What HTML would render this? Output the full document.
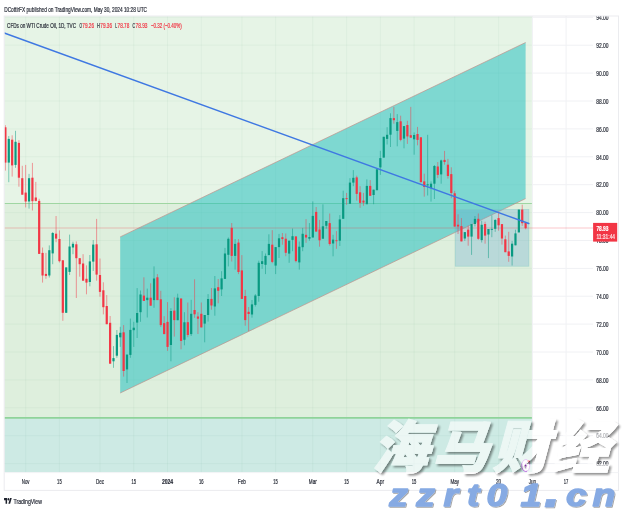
<!DOCTYPE html>
<html lang="en"><head><meta charset="utf-8"><title>CFDs on WTI Crude Oil, 1D, TVC</title>
<style>html,body{margin:0;padding:0;background:#fff;}body{width:623px;height:512px;overflow:hidden;}svg{display:block;}text{font-family:"Liberation Sans","Noto Sans CJK SC",sans-serif;}</style>
</head><body>
<svg width="623" height="512" viewBox="0 0 623 512">
<defs>
<clipPath id="pane"><rect x="4.2" y="16.0" width="588.8" height="456.6"/></clipPath>
<clipPath id="axis"><rect x="593.0" y="16.0" width="25.5" height="456.6"/></clipPath>
<filter id="ws" x="-5%" y="-10%" width="115%" height="130%"><feGaussianBlur in="SourceAlpha" stdDeviation="0.8" result="b"/><feOffset in="b" dx="2.2" dy="2.2" result="o"/><feComponentTransfer in="o" result="o2"><feFuncA type="linear" slope="0.7"/></feComponentTransfer><feComposite in="o2" in2="SourceAlpha" operator="out" result="s"/><feMerge><feMergeNode in="s"/><feMergeNode in="SourceGraphic"/></feMerge></filter>
<filter id="bs" x="-5%" y="-10%" width="115%" height="130%"><feGaussianBlur in="SourceAlpha" stdDeviation="0.45" result="b"/><feOffset in="b" dx="1.2" dy="1.2" result="o"/><feComponentTransfer in="o" result="o2"><feFuncA type="linear" slope="0.35"/></feComponentTransfer><feMerge><feMergeNode in="o2"/><feMergeNode in="SourceGraphic"/></feMerge></filter>
</defs>
<rect width="623" height="512" fill="#fff"/>
<text x="4.2" y="11.7" font-size="7.4" fill="#2a2e39" stroke="#2a2e39" stroke-width="0.22" textLength="142.8" lengthAdjust="spacingAndGlyphs">DCottlrFX published on TradingView.com, May 30, 2024 10:28 UTC</text>
<g clip-path="url(#pane)">
<line x1="25.7" y1="16.0" x2="25.7" y2="472.6" stroke="#f0f1f4" stroke-width="1"/>
<line x1="59.4" y1="16.0" x2="59.4" y2="472.6" stroke="#f0f1f4" stroke-width="1"/>
<line x1="100.0" y1="16.0" x2="100.0" y2="472.6" stroke="#f0f1f4" stroke-width="1"/>
<line x1="133.8" y1="16.0" x2="133.8" y2="472.6" stroke="#f0f1f4" stroke-width="1"/>
<line x1="167.5" y1="16.0" x2="167.5" y2="472.6" stroke="#f0f1f4" stroke-width="1"/>
<line x1="201.3" y1="16.0" x2="201.3" y2="472.6" stroke="#f0f1f4" stroke-width="1"/>
<line x1="241.9" y1="16.0" x2="241.9" y2="472.6" stroke="#f0f1f4" stroke-width="1"/>
<line x1="275.6" y1="16.0" x2="275.6" y2="472.6" stroke="#f0f1f4" stroke-width="1"/>
<line x1="312.8" y1="16.0" x2="312.8" y2="472.6" stroke="#f0f1f4" stroke-width="1"/>
<line x1="346.6" y1="16.0" x2="346.6" y2="472.6" stroke="#f0f1f4" stroke-width="1"/>
<line x1="380.4" y1="16.0" x2="380.4" y2="472.6" stroke="#f0f1f4" stroke-width="1"/>
<line x1="414.1" y1="16.0" x2="414.1" y2="472.6" stroke="#f0f1f4" stroke-width="1"/>
<line x1="454.7" y1="16.0" x2="454.7" y2="472.6" stroke="#f0f1f4" stroke-width="1"/>
<line x1="498.6" y1="16.0" x2="498.6" y2="472.6" stroke="#f0f1f4" stroke-width="1"/>
<line x1="532.4" y1="16.0" x2="532.4" y2="472.6" stroke="#f0f1f4" stroke-width="1"/>
<line x1="566.1" y1="16.0" x2="566.1" y2="472.6" stroke="#f0f1f4" stroke-width="1"/>
<line x1="4.2" y1="463.6" x2="593.0" y2="463.6" stroke="#f0f1f4" stroke-width="1"/>
<line x1="4.2" y1="435.7" x2="593.0" y2="435.7" stroke="#f0f1f4" stroke-width="1"/>
<line x1="4.2" y1="407.8" x2="593.0" y2="407.8" stroke="#f0f1f4" stroke-width="1"/>
<line x1="4.2" y1="379.9" x2="593.0" y2="379.9" stroke="#f0f1f4" stroke-width="1"/>
<line x1="4.2" y1="352.0" x2="593.0" y2="352.0" stroke="#f0f1f4" stroke-width="1"/>
<line x1="4.2" y1="324.1" x2="593.0" y2="324.1" stroke="#f0f1f4" stroke-width="1"/>
<line x1="4.2" y1="296.2" x2="593.0" y2="296.2" stroke="#f0f1f4" stroke-width="1"/>
<line x1="4.2" y1="268.4" x2="593.0" y2="268.4" stroke="#f0f1f4" stroke-width="1"/>
<line x1="4.2" y1="240.5" x2="593.0" y2="240.5" stroke="#f0f1f4" stroke-width="1"/>
<line x1="4.2" y1="212.6" x2="593.0" y2="212.6" stroke="#f0f1f4" stroke-width="1"/>
<line x1="4.2" y1="184.7" x2="593.0" y2="184.7" stroke="#f0f1f4" stroke-width="1"/>
<line x1="4.2" y1="156.8" x2="593.0" y2="156.8" stroke="#f0f1f4" stroke-width="1"/>
<line x1="4.2" y1="128.9" x2="593.0" y2="128.9" stroke="#f0f1f4" stroke-width="1"/>
<line x1="4.2" y1="101.0" x2="593.0" y2="101.0" stroke="#f0f1f4" stroke-width="1"/>
<line x1="4.2" y1="73.1" x2="593.0" y2="73.1" stroke="#f0f1f4" stroke-width="1"/>
<line x1="4.2" y1="45.2" x2="593.0" y2="45.2" stroke="#f0f1f4" stroke-width="1"/>
<line x1="4.2" y1="17.3" x2="593.0" y2="17.3" stroke="#f0f1f4" stroke-width="1"/>
<rect x="4.2" y="16.0" width="527.7" height="187.5" fill="#e6f4e6"/>
<rect x="4.2" y="203.5" width="527.7" height="214.3" fill="#deefdd"/>
<rect x="4.2" y="417.8" width="527.7" height="54.8" fill="#cdeae4"/>
<line x1="25.7" y1="16.0" x2="25.7" y2="472.6" stroke="#3c8c5a" stroke-opacity="0.05" stroke-width="1"/>
<line x1="59.4" y1="16.0" x2="59.4" y2="472.6" stroke="#3c8c5a" stroke-opacity="0.05" stroke-width="1"/>
<line x1="100.0" y1="16.0" x2="100.0" y2="472.6" stroke="#3c8c5a" stroke-opacity="0.05" stroke-width="1"/>
<line x1="133.8" y1="16.0" x2="133.8" y2="472.6" stroke="#3c8c5a" stroke-opacity="0.05" stroke-width="1"/>
<line x1="167.5" y1="16.0" x2="167.5" y2="472.6" stroke="#3c8c5a" stroke-opacity="0.05" stroke-width="1"/>
<line x1="201.3" y1="16.0" x2="201.3" y2="472.6" stroke="#3c8c5a" stroke-opacity="0.05" stroke-width="1"/>
<line x1="241.9" y1="16.0" x2="241.9" y2="472.6" stroke="#3c8c5a" stroke-opacity="0.05" stroke-width="1"/>
<line x1="275.6" y1="16.0" x2="275.6" y2="472.6" stroke="#3c8c5a" stroke-opacity="0.05" stroke-width="1"/>
<line x1="312.8" y1="16.0" x2="312.8" y2="472.6" stroke="#3c8c5a" stroke-opacity="0.05" stroke-width="1"/>
<line x1="346.6" y1="16.0" x2="346.6" y2="472.6" stroke="#3c8c5a" stroke-opacity="0.05" stroke-width="1"/>
<line x1="380.4" y1="16.0" x2="380.4" y2="472.6" stroke="#3c8c5a" stroke-opacity="0.05" stroke-width="1"/>
<line x1="414.1" y1="16.0" x2="414.1" y2="472.6" stroke="#3c8c5a" stroke-opacity="0.05" stroke-width="1"/>
<line x1="454.7" y1="16.0" x2="454.7" y2="472.6" stroke="#3c8c5a" stroke-opacity="0.05" stroke-width="1"/>
<line x1="498.6" y1="16.0" x2="498.6" y2="472.6" stroke="#3c8c5a" stroke-opacity="0.05" stroke-width="1"/>
<line x1="4.2" y1="463.6" x2="531.9" y2="463.6" stroke="#3c8c5a" stroke-opacity="0.05" stroke-width="1"/>
<line x1="4.2" y1="435.7" x2="531.9" y2="435.7" stroke="#3c8c5a" stroke-opacity="0.05" stroke-width="1"/>
<line x1="4.2" y1="407.8" x2="531.9" y2="407.8" stroke="#3c8c5a" stroke-opacity="0.05" stroke-width="1"/>
<line x1="4.2" y1="379.9" x2="531.9" y2="379.9" stroke="#3c8c5a" stroke-opacity="0.05" stroke-width="1"/>
<line x1="4.2" y1="352.0" x2="531.9" y2="352.0" stroke="#3c8c5a" stroke-opacity="0.05" stroke-width="1"/>
<line x1="4.2" y1="324.1" x2="531.9" y2="324.1" stroke="#3c8c5a" stroke-opacity="0.05" stroke-width="1"/>
<line x1="4.2" y1="296.2" x2="531.9" y2="296.2" stroke="#3c8c5a" stroke-opacity="0.05" stroke-width="1"/>
<line x1="4.2" y1="268.4" x2="531.9" y2="268.4" stroke="#3c8c5a" stroke-opacity="0.05" stroke-width="1"/>
<line x1="4.2" y1="240.5" x2="531.9" y2="240.5" stroke="#3c8c5a" stroke-opacity="0.05" stroke-width="1"/>
<line x1="4.2" y1="212.6" x2="531.9" y2="212.6" stroke="#3c8c5a" stroke-opacity="0.05" stroke-width="1"/>
<line x1="4.2" y1="184.7" x2="531.9" y2="184.7" stroke="#3c8c5a" stroke-opacity="0.05" stroke-width="1"/>
<line x1="4.2" y1="156.8" x2="531.9" y2="156.8" stroke="#3c8c5a" stroke-opacity="0.05" stroke-width="1"/>
<line x1="4.2" y1="128.9" x2="531.9" y2="128.9" stroke="#3c8c5a" stroke-opacity="0.05" stroke-width="1"/>
<line x1="4.2" y1="101.0" x2="531.9" y2="101.0" stroke="#3c8c5a" stroke-opacity="0.05" stroke-width="1"/>
<line x1="4.2" y1="73.1" x2="531.9" y2="73.1" stroke="#3c8c5a" stroke-opacity="0.05" stroke-width="1"/>
<line x1="4.2" y1="45.2" x2="531.9" y2="45.2" stroke="#3c8c5a" stroke-opacity="0.05" stroke-width="1"/>
<line x1="4.2" y1="17.3" x2="531.9" y2="17.3" stroke="#3c8c5a" stroke-opacity="0.05" stroke-width="1"/>
<line x1="4.2" y1="203.5" x2="531.9" y2="203.5" stroke="#9fd6a2" stroke-width="1"/>
<line x1="4.2" y1="417.8" x2="531.9" y2="417.8" stroke="#8fd39a" stroke-width="1.8"/>
<polygon points="120.2,236.9 525.6,42.5 525.6,198.6 120.2,393.0" fill="#20bfbf" fill-opacity="0.525"/>
<line x1="120.2" y1="236.9" x2="525.6" y2="42.5" stroke="#bf8f89" stroke-opacity="0.85" stroke-width="0.8"/>
<line x1="120.2" y1="393.0" x2="525.6" y2="198.6" stroke="#bf8f89" stroke-opacity="0.85" stroke-width="0.8"/>
<rect x="455.2" y="209.4" width="73.7" height="56.8" fill="#5aa2d2" fill-opacity="0.28" stroke="#7fc8c4" stroke-opacity="0.6" stroke-width="0.6"/>
<line x1="4.2" y1="228" x2="593.0" y2="228" stroke="#f23645" stroke-opacity="0.28" stroke-width="1"/>
<line x1="5.40" y1="125.2" x2="5.40" y2="170.6" stroke="#f23645" stroke-opacity="0.55" stroke-width="0.9"/>
<rect x="4.30" y="127.3" width="2.2" height="35.3" fill="#f23645"/>
<line x1="8.78" y1="136.0" x2="8.78" y2="182.2" stroke="#089981" stroke-opacity="0.55" stroke-width="0.9"/>
<rect x="7.68" y="138.9" width="2.2" height="23.7" fill="#089981"/>
<line x1="12.16" y1="135.3" x2="12.16" y2="176.6" stroke="#f23645" stroke-opacity="0.55" stroke-width="0.9"/>
<rect x="11.06" y="139.7" width="2.2" height="25.7" fill="#f23645"/>
<line x1="15.53" y1="130.8" x2="15.53" y2="167.8" stroke="#089981" stroke-opacity="0.55" stroke-width="0.9"/>
<rect x="14.43" y="141.8" width="2.2" height="23.1" fill="#089981"/>
<line x1="18.91" y1="140.2" x2="18.91" y2="186.7" stroke="#f23645" stroke-opacity="0.55" stroke-width="0.9"/>
<rect x="17.81" y="142.9" width="2.2" height="34.8" fill="#f23645"/>
<line x1="22.29" y1="165.8" x2="22.29" y2="194.7" stroke="#f23645" stroke-opacity="0.55" stroke-width="0.9"/>
<rect x="21.19" y="178.2" width="2.2" height="16.5" fill="#f23645"/>
<line x1="25.67" y1="164.9" x2="25.67" y2="207.4" stroke="#f23645" stroke-opacity="0.55" stroke-width="0.9"/>
<rect x="24.57" y="192.6" width="2.2" height="8.9" fill="#f23645"/>
<line x1="29.05" y1="173.9" x2="29.05" y2="208.6" stroke="#089981" stroke-opacity="0.55" stroke-width="0.9"/>
<rect x="27.95" y="178.2" width="2.2" height="23.3" fill="#089981"/>
<line x1="32.42" y1="162.9" x2="32.42" y2="210.5" stroke="#f23645" stroke-opacity="0.55" stroke-width="0.9"/>
<rect x="31.32" y="177.7" width="2.2" height="23.5" fill="#f23645"/>
<line x1="35.80" y1="181.9" x2="35.80" y2="201.5" stroke="#f23645" stroke-opacity="0.55" stroke-width="0.9"/>
<rect x="34.70" y="197.5" width="2.2" height="3.4" fill="#f23645"/>
<line x1="39.18" y1="198.8" x2="39.18" y2="253.9" stroke="#f23645" stroke-opacity="0.55" stroke-width="0.9"/>
<rect x="38.08" y="200.9" width="2.2" height="53.0" fill="#f23645"/>
<line x1="42.56" y1="247.5" x2="42.56" y2="282.6" stroke="#f23645" stroke-opacity="0.55" stroke-width="0.9"/>
<rect x="41.46" y="252.9" width="2.2" height="22.6" fill="#f23645"/>
<line x1="45.94" y1="252.9" x2="45.94" y2="278.8" stroke="#f23645" stroke-opacity="0.55" stroke-width="0.9"/>
<rect x="44.84" y="273.9" width="2.2" height="2.0" fill="#f23645"/>
<line x1="49.31" y1="245.4" x2="49.31" y2="277.5" stroke="#089981" stroke-opacity="0.55" stroke-width="0.9"/>
<rect x="48.21" y="250.2" width="2.2" height="25.3" fill="#089981"/>
<line x1="52.69" y1="232.0" x2="52.69" y2="264.2" stroke="#089981" stroke-opacity="0.55" stroke-width="0.9"/>
<rect x="51.59" y="233.0" width="2.2" height="20.4" fill="#089981"/>
<line x1="56.07" y1="216.0" x2="56.07" y2="242.2" stroke="#f23645" stroke-opacity="0.55" stroke-width="0.9"/>
<rect x="54.97" y="233.7" width="2.2" height="4.9" fill="#f23645"/>
<line x1="59.45" y1="230.4" x2="59.45" y2="262.5" stroke="#f23645" stroke-opacity="0.55" stroke-width="0.9"/>
<rect x="58.35" y="239.0" width="2.2" height="22.2" fill="#f23645"/>
<line x1="62.83" y1="260.1" x2="62.83" y2="320.8" stroke="#f23645" stroke-opacity="0.55" stroke-width="0.9"/>
<rect x="61.73" y="260.3" width="2.2" height="52.5" fill="#f23645"/>
<line x1="66.20" y1="267.4" x2="66.20" y2="312.8" stroke="#089981" stroke-opacity="0.55" stroke-width="0.9"/>
<rect x="65.10" y="267.4" width="2.2" height="45.4" fill="#089981"/>
<line x1="69.58" y1="234.6" x2="69.58" y2="275.0" stroke="#089981" stroke-opacity="0.55" stroke-width="0.9"/>
<rect x="68.48" y="246.5" width="2.2" height="25.4" fill="#089981"/>
<line x1="72.96" y1="241.7" x2="72.96" y2="254.2" stroke="#089981" stroke-opacity="0.55" stroke-width="0.9"/>
<rect x="71.86" y="243.8" width="2.2" height="3.7" fill="#089981"/>
<line x1="76.34" y1="241.4" x2="76.34" y2="298.0" stroke="#f23645" stroke-opacity="0.55" stroke-width="0.9"/>
<rect x="75.24" y="244.3" width="2.2" height="13.9" fill="#f23645"/>
<line x1="79.72" y1="258.2" x2="79.72" y2="276.7" stroke="#f23645" stroke-opacity="0.55" stroke-width="0.9"/>
<rect x="78.62" y="258.2" width="2.2" height="6.0" fill="#f23645"/>
<line x1="83.09" y1="254.2" x2="83.09" y2="280.7" stroke="#f23645" stroke-opacity="0.55" stroke-width="0.9"/>
<rect x="81.99" y="263.5" width="2.2" height="17.2" fill="#f23645"/>
<line x1="86.47" y1="265.4" x2="86.47" y2="294.3" stroke="#f23645" stroke-opacity="0.55" stroke-width="0.9"/>
<rect x="85.37" y="278.8" width="2.2" height="3.8" fill="#f23645"/>
<line x1="89.85" y1="255.0" x2="89.85" y2="286.3" stroke="#089981" stroke-opacity="0.55" stroke-width="0.9"/>
<rect x="88.75" y="261.4" width="2.2" height="20.6" fill="#089981"/>
<line x1="93.23" y1="240.0" x2="93.23" y2="271.0" stroke="#089981" stroke-opacity="0.55" stroke-width="0.9"/>
<rect x="92.13" y="244.6" width="2.2" height="17.0" fill="#089981"/>
<line x1="96.61" y1="218.9" x2="96.61" y2="280.7" stroke="#f23645" stroke-opacity="0.55" stroke-width="0.9"/>
<rect x="95.51" y="244.3" width="2.2" height="30.3" fill="#f23645"/>
<line x1="99.98" y1="258.5" x2="99.98" y2="296.7" stroke="#f23645" stroke-opacity="0.55" stroke-width="0.9"/>
<rect x="98.88" y="275.0" width="2.2" height="16.9" fill="#f23645"/>
<line x1="103.36" y1="282.3" x2="103.36" y2="314.4" stroke="#f23645" stroke-opacity="0.55" stroke-width="0.9"/>
<rect x="102.26" y="290.3" width="2.2" height="16.9" fill="#f23645"/>
<line x1="106.74" y1="295.1" x2="106.74" y2="324.2" stroke="#f23645" stroke-opacity="0.55" stroke-width="0.9"/>
<rect x="105.64" y="306.0" width="2.2" height="18.2" fill="#f23645"/>
<line x1="110.12" y1="316.0" x2="110.12" y2="363.7" stroke="#f23645" stroke-opacity="0.55" stroke-width="0.9"/>
<rect x="109.02" y="322.8" width="2.2" height="40.9" fill="#f23645"/>
<line x1="113.50" y1="346.1" x2="113.50" y2="367.8" stroke="#089981" stroke-opacity="0.55" stroke-width="0.9"/>
<rect x="112.40" y="358.1" width="2.2" height="3.2" fill="#089981"/>
<line x1="116.87" y1="330.0" x2="116.87" y2="357.8" stroke="#089981" stroke-opacity="0.55" stroke-width="0.9"/>
<rect x="115.77" y="334.9" width="2.2" height="20.8" fill="#089981"/>
<line x1="120.25" y1="326.8" x2="120.25" y2="346.9" stroke="#089981" stroke-opacity="0.55" stroke-width="0.9"/>
<rect x="119.15" y="332.8" width="2.2" height="4.5" fill="#089981"/>
<line x1="123.63" y1="325.1" x2="123.63" y2="376.6" stroke="#f23645" stroke-opacity="0.55" stroke-width="0.9"/>
<rect x="122.53" y="332.3" width="2.2" height="38.7" fill="#f23645"/>
<line x1="127.01" y1="354.6" x2="127.01" y2="383.0" stroke="#089981" stroke-opacity="0.55" stroke-width="0.9"/>
<rect x="125.91" y="354.6" width="2.2" height="14.8" fill="#089981"/>
<line x1="130.39" y1="318.6" x2="130.39" y2="357.8" stroke="#089981" stroke-opacity="0.55" stroke-width="0.9"/>
<rect x="129.29" y="329.9" width="2.2" height="25.0" fill="#089981"/>
<line x1="133.76" y1="321.8" x2="133.76" y2="346.9" stroke="#089981" stroke-opacity="0.55" stroke-width="0.9"/>
<rect x="132.66" y="327.7" width="2.2" height="2.5" fill="#089981"/>
<line x1="137.14" y1="288.1" x2="137.14" y2="338.0" stroke="#089981" stroke-opacity="0.55" stroke-width="0.9"/>
<rect x="136.04" y="313.0" width="2.2" height="9.6" fill="#089981"/>
<line x1="140.52" y1="290.5" x2="140.52" y2="321.8" stroke="#089981" stroke-opacity="0.55" stroke-width="0.9"/>
<rect x="139.42" y="294.5" width="2.2" height="17.7" fill="#089981"/>
<line x1="143.90" y1="277.3" x2="143.90" y2="300.9" stroke="#f23645" stroke-opacity="0.55" stroke-width="0.9"/>
<rect x="142.80" y="295.6" width="2.2" height="5.3" fill="#f23645"/>
<line x1="147.28" y1="288.6" x2="147.28" y2="317.5" stroke="#089981" stroke-opacity="0.55" stroke-width="0.9"/>
<rect x="146.18" y="297.7" width="2.2" height="2.4" fill="#089981"/>
<line x1="150.65" y1="283.3" x2="150.65" y2="305.7" stroke="#f23645" stroke-opacity="0.55" stroke-width="0.9"/>
<rect x="149.55" y="297.7" width="2.2" height="8.0" fill="#f23645"/>
<line x1="154.03" y1="266.4" x2="154.03" y2="307.8" stroke="#089981" stroke-opacity="0.55" stroke-width="0.9"/>
<rect x="152.93" y="278.5" width="2.2" height="21.6" fill="#089981"/>
<line x1="157.41" y1="274.1" x2="157.41" y2="300.1" stroke="#f23645" stroke-opacity="0.55" stroke-width="0.9"/>
<rect x="156.31" y="277.3" width="2.2" height="22.8" fill="#f23645"/>
<line x1="160.79" y1="290.8" x2="160.79" y2="327.0" stroke="#f23645" stroke-opacity="0.55" stroke-width="0.9"/>
<rect x="159.69" y="299.3" width="2.2" height="25.8" fill="#f23645"/>
<line x1="164.17" y1="316.2" x2="164.17" y2="334.1" stroke="#f23645" stroke-opacity="0.55" stroke-width="0.9"/>
<rect x="163.07" y="323.1" width="2.2" height="11.0" fill="#f23645"/>
<line x1="167.54" y1="302.1" x2="167.54" y2="350.9" stroke="#f23645" stroke-opacity="0.55" stroke-width="0.9"/>
<rect x="166.44" y="321.9" width="2.2" height="25.0" fill="#f23645"/>
<line x1="170.92" y1="308.2" x2="170.92" y2="361.3" stroke="#089981" stroke-opacity="0.55" stroke-width="0.9"/>
<rect x="169.82" y="311.0" width="2.2" height="34.0" fill="#089981"/>
<line x1="174.30" y1="297.2" x2="174.30" y2="336.6" stroke="#f23645" stroke-opacity="0.55" stroke-width="0.9"/>
<rect x="173.20" y="310.6" width="2.2" height="9.5" fill="#f23645"/>
<line x1="177.68" y1="293.7" x2="177.68" y2="320.2" stroke="#089981" stroke-opacity="0.55" stroke-width="0.9"/>
<rect x="176.58" y="297.7" width="2.2" height="22.5" fill="#089981"/>
<line x1="181.06" y1="298.5" x2="181.06" y2="349.3" stroke="#f23645" stroke-opacity="0.55" stroke-width="0.9"/>
<rect x="179.96" y="298.5" width="2.2" height="42.4" fill="#f23645"/>
<line x1="184.43" y1="312.2" x2="184.43" y2="345.3" stroke="#089981" stroke-opacity="0.55" stroke-width="0.9"/>
<rect x="183.33" y="322.3" width="2.2" height="17.5" fill="#089981"/>
<line x1="187.81" y1="302.5" x2="187.81" y2="337.2" stroke="#f23645" stroke-opacity="0.55" stroke-width="0.9"/>
<rect x="186.71" y="322.2" width="2.2" height="12.8" fill="#f23645"/>
<line x1="191.19" y1="299.8" x2="191.19" y2="336.0" stroke="#089981" stroke-opacity="0.55" stroke-width="0.9"/>
<rect x="190.09" y="313.8" width="2.2" height="20.3" fill="#089981"/>
<line x1="194.57" y1="279.3" x2="194.57" y2="317.8" stroke="#f23645" stroke-opacity="0.55" stroke-width="0.9"/>
<rect x="193.47" y="310.0" width="2.2" height="4.3" fill="#f23645"/>
<line x1="197.95" y1="312.2" x2="197.95" y2="334.0" stroke="#f23645" stroke-opacity="0.55" stroke-width="0.9"/>
<rect x="196.85" y="316.5" width="2.2" height="2.2" fill="#f23645"/>
<line x1="201.32" y1="302.5" x2="201.32" y2="327.4" stroke="#f23645" stroke-opacity="0.55" stroke-width="0.9"/>
<rect x="200.22" y="313.8" width="2.2" height="13.6" fill="#f23645"/>
<line x1="204.70" y1="315.0" x2="204.70" y2="342.3" stroke="#089981" stroke-opacity="0.55" stroke-width="0.9"/>
<rect x="203.60" y="315.0" width="2.2" height="8.6" fill="#089981"/>
<line x1="208.08" y1="294.1" x2="208.08" y2="321.6" stroke="#089981" stroke-opacity="0.55" stroke-width="0.9"/>
<rect x="206.98" y="299.0" width="2.2" height="16.0" fill="#089981"/>
<line x1="211.46" y1="288.0" x2="211.46" y2="309.7" stroke="#f23645" stroke-opacity="0.55" stroke-width="0.9"/>
<rect x="210.36" y="298.9" width="2.2" height="6.6" fill="#f23645"/>
<line x1="214.84" y1="276.0" x2="214.84" y2="315.7" stroke="#089981" stroke-opacity="0.55" stroke-width="0.9"/>
<rect x="213.74" y="288.4" width="2.2" height="18.1" fill="#089981"/>
<line x1="218.21" y1="279.0" x2="218.21" y2="303.3" stroke="#f23645" stroke-opacity="0.55" stroke-width="0.9"/>
<rect x="217.11" y="287.2" width="2.2" height="3.6" fill="#f23645"/>
<line x1="221.59" y1="271.2" x2="221.59" y2="296.0" stroke="#089981" stroke-opacity="0.55" stroke-width="0.9"/>
<rect x="220.49" y="278.4" width="2.2" height="11.0" fill="#089981"/>
<line x1="224.97" y1="247.9" x2="224.97" y2="278.9" stroke="#089981" stroke-opacity="0.55" stroke-width="0.9"/>
<rect x="223.87" y="253.5" width="2.2" height="25.4" fill="#089981"/>
<line x1="228.35" y1="237.5" x2="228.35" y2="266.4" stroke="#089981" stroke-opacity="0.55" stroke-width="0.9"/>
<rect x="227.25" y="238.8" width="2.2" height="16.0" fill="#089981"/>
<line x1="231.73" y1="223.0" x2="231.73" y2="261.5" stroke="#f23645" stroke-opacity="0.55" stroke-width="0.9"/>
<rect x="230.63" y="227.8" width="2.2" height="28.1" fill="#f23645"/>
<line x1="235.10" y1="239.1" x2="235.10" y2="269.6" stroke="#089981" stroke-opacity="0.55" stroke-width="0.9"/>
<rect x="234.00" y="243.9" width="2.2" height="12.0" fill="#089981"/>
<line x1="238.48" y1="239.1" x2="238.48" y2="274.1" stroke="#f23645" stroke-opacity="0.55" stroke-width="0.9"/>
<rect x="237.38" y="242.6" width="2.2" height="29.4" fill="#f23645"/>
<line x1="241.86" y1="255.1" x2="241.86" y2="298.9" stroke="#f23645" stroke-opacity="0.55" stroke-width="0.9"/>
<rect x="240.76" y="270.4" width="2.2" height="28.5" fill="#f23645"/>
<line x1="245.24" y1="289.8" x2="245.24" y2="325.7" stroke="#f23645" stroke-opacity="0.55" stroke-width="0.9"/>
<rect x="244.14" y="296.0" width="2.2" height="24.1" fill="#f23645"/>
<line x1="248.62" y1="307.0" x2="248.62" y2="331.0" stroke="#f23645" stroke-opacity="0.55" stroke-width="0.9"/>
<rect x="247.52" y="311.8" width="2.2" height="2.2" fill="#f23645"/>
<line x1="251.99" y1="300.0" x2="251.99" y2="317.7" stroke="#089981" stroke-opacity="0.55" stroke-width="0.9"/>
<rect x="250.89" y="304.4" width="2.2" height="10.1" fill="#089981"/>
<line x1="255.37" y1="294.1" x2="255.37" y2="306.5" stroke="#089981" stroke-opacity="0.55" stroke-width="0.9"/>
<rect x="254.27" y="295.5" width="2.2" height="9.4" fill="#089981"/>
<line x1="258.75" y1="260.7" x2="258.75" y2="301.7" stroke="#089981" stroke-opacity="0.55" stroke-width="0.9"/>
<rect x="257.65" y="262.8" width="2.2" height="33.2" fill="#089981"/>
<line x1="262.13" y1="251.1" x2="262.13" y2="268.8" stroke="#089981" stroke-opacity="0.55" stroke-width="0.9"/>
<rect x="261.03" y="261.2" width="2.2" height="2.8" fill="#089981"/>
<line x1="265.51" y1="253.5" x2="265.51" y2="274.1" stroke="#089981" stroke-opacity="0.55" stroke-width="0.9"/>
<rect x="264.41" y="255.9" width="2.2" height="8.9" fill="#089981"/>
<line x1="268.88" y1="234.3" x2="268.88" y2="255.1" stroke="#089981" stroke-opacity="0.55" stroke-width="0.9"/>
<rect x="267.78" y="243.9" width="2.2" height="11.2" fill="#089981"/>
<line x1="272.26" y1="230.2" x2="272.26" y2="263.2" stroke="#f23645" stroke-opacity="0.55" stroke-width="0.9"/>
<rect x="271.16" y="244.7" width="2.2" height="17.2" fill="#f23645"/>
<line x1="275.64" y1="247.1" x2="275.64" y2="274.1" stroke="#089981" stroke-opacity="0.55" stroke-width="0.9"/>
<rect x="274.54" y="247.1" width="2.2" height="18.5" fill="#089981"/>
<line x1="279.02" y1="233.9" x2="279.02" y2="258.0" stroke="#089981" stroke-opacity="0.55" stroke-width="0.9"/>
<rect x="277.92" y="238.3" width="2.2" height="8.8" fill="#089981"/>
<line x1="282.40" y1="233.0" x2="282.40" y2="244.7" stroke="#f23645" stroke-opacity="0.55" stroke-width="0.9"/>
<rect x="281.30" y="237.2" width="2.2" height="1.9" fill="#f23645"/>
<line x1="285.77" y1="233.5" x2="285.77" y2="256.2" stroke="#f23645" stroke-opacity="0.55" stroke-width="0.9"/>
<rect x="284.67" y="238.7" width="2.2" height="14.1" fill="#f23645"/>
<line x1="289.15" y1="240.7" x2="289.15" y2="262.8" stroke="#089981" stroke-opacity="0.55" stroke-width="0.9"/>
<rect x="288.05" y="240.7" width="2.2" height="12.9" fill="#089981"/>
<line x1="292.53" y1="228.5" x2="292.53" y2="251.2" stroke="#089981" stroke-opacity="0.55" stroke-width="0.9"/>
<rect x="291.43" y="236.2" width="2.2" height="3.7" fill="#089981"/>
<line x1="295.91" y1="236.4" x2="295.91" y2="262.4" stroke="#f23645" stroke-opacity="0.55" stroke-width="0.9"/>
<rect x="294.81" y="236.4" width="2.2" height="24.7" fill="#f23645"/>
<line x1="299.29" y1="241.5" x2="299.29" y2="269.6" stroke="#089981" stroke-opacity="0.55" stroke-width="0.9"/>
<rect x="298.19" y="246.7" width="2.2" height="15.7" fill="#089981"/>
<line x1="302.66" y1="227.9" x2="302.66" y2="251.2" stroke="#089981" stroke-opacity="0.55" stroke-width="0.9"/>
<rect x="301.56" y="233.8" width="2.2" height="13.4" fill="#089981"/>
<line x1="306.04" y1="219.1" x2="306.04" y2="242.8" stroke="#f23645" stroke-opacity="0.55" stroke-width="0.9"/>
<rect x="304.94" y="234.8" width="2.2" height="2.7" fill="#f23645"/>
<line x1="309.42" y1="223.1" x2="309.42" y2="240.7" stroke="#089981" stroke-opacity="0.55" stroke-width="0.9"/>
<rect x="308.32" y="237.0" width="2.2" height="1.7" fill="#089981"/>
<line x1="312.80" y1="201.4" x2="312.80" y2="237.5" stroke="#089981" stroke-opacity="0.55" stroke-width="0.9"/>
<rect x="311.70" y="215.9" width="2.2" height="21.6" fill="#089981"/>
<line x1="316.18" y1="207.0" x2="316.18" y2="231.6" stroke="#f23645" stroke-opacity="0.55" stroke-width="0.9"/>
<rect x="315.08" y="211.9" width="2.2" height="19.7" fill="#f23645"/>
<line x1="319.55" y1="219.9" x2="319.55" y2="246.7" stroke="#f23645" stroke-opacity="0.55" stroke-width="0.9"/>
<rect x="318.45" y="229.5" width="2.2" height="10.8" fill="#f23645"/>
<line x1="322.93" y1="204.3" x2="322.93" y2="238.7" stroke="#089981" stroke-opacity="0.55" stroke-width="0.9"/>
<rect x="321.83" y="226.3" width="2.2" height="12.4" fill="#089981"/>
<line x1="326.31" y1="221.0" x2="326.31" y2="228.7" stroke="#089981" stroke-opacity="0.55" stroke-width="0.9"/>
<rect x="325.21" y="221.0" width="2.2" height="4.8" fill="#089981"/>
<line x1="329.69" y1="213.5" x2="329.69" y2="245.6" stroke="#f23645" stroke-opacity="0.55" stroke-width="0.9"/>
<rect x="328.59" y="223.1" width="2.2" height="20.9" fill="#f23645"/>
<line x1="333.07" y1="234.8" x2="333.07" y2="256.3" stroke="#089981" stroke-opacity="0.55" stroke-width="0.9"/>
<rect x="331.97" y="239.6" width="2.2" height="3.9" fill="#089981"/>
<line x1="336.44" y1="231.1" x2="336.44" y2="248.8" stroke="#f23645" stroke-opacity="0.55" stroke-width="0.9"/>
<rect x="335.34" y="240.3" width="2.2" height="0.9" fill="#f23645"/>
<line x1="339.82" y1="215.1" x2="339.82" y2="246.0" stroke="#089981" stroke-opacity="0.55" stroke-width="0.9"/>
<rect x="338.72" y="219.4" width="2.2" height="21.3" fill="#089981"/>
<line x1="343.20" y1="190.7" x2="343.20" y2="218.8" stroke="#089981" stroke-opacity="0.55" stroke-width="0.9"/>
<rect x="342.10" y="198.2" width="2.2" height="20.6" fill="#089981"/>
<line x1="346.58" y1="192.9" x2="346.58" y2="204.8" stroke="#f23645" stroke-opacity="0.55" stroke-width="0.9"/>
<rect x="345.48" y="198.2" width="2.2" height="0.9" fill="#f23645"/>
<line x1="349.96" y1="178.2" x2="349.96" y2="203.8" stroke="#089981" stroke-opacity="0.55" stroke-width="0.9"/>
<rect x="348.86" y="182.6" width="2.2" height="21.2" fill="#089981"/>
<line x1="353.33" y1="170.1" x2="353.33" y2="186.2" stroke="#089981" stroke-opacity="0.55" stroke-width="0.9"/>
<rect x="352.23" y="177.8" width="2.2" height="4.8" fill="#089981"/>
<line x1="356.71" y1="175.7" x2="356.71" y2="200.6" stroke="#f23645" stroke-opacity="0.55" stroke-width="0.9"/>
<rect x="355.61" y="177.4" width="2.2" height="16.5" fill="#f23645"/>
<line x1="360.09" y1="186.2" x2="360.09" y2="207.8" stroke="#f23645" stroke-opacity="0.55" stroke-width="0.9"/>
<rect x="358.99" y="192.3" width="2.2" height="10.6" fill="#f23645"/>
<line x1="363.47" y1="192.9" x2="363.47" y2="205.8" stroke="#f23645" stroke-opacity="0.55" stroke-width="0.9"/>
<rect x="362.37" y="200.6" width="2.2" height="2.0" fill="#f23645"/>
<line x1="366.85" y1="179.4" x2="366.85" y2="204.2" stroke="#089981" stroke-opacity="0.55" stroke-width="0.9"/>
<rect x="365.75" y="185.9" width="2.2" height="18.3" fill="#089981"/>
<line x1="370.22" y1="180.1" x2="370.22" y2="195.8" stroke="#f23645" stroke-opacity="0.55" stroke-width="0.9"/>
<rect x="369.12" y="185.9" width="2.2" height="9.9" fill="#f23645"/>
<line x1="373.60" y1="189.7" x2="373.60" y2="204.2" stroke="#089981" stroke-opacity="0.55" stroke-width="0.9"/>
<rect x="372.50" y="189.7" width="2.2" height="5.3" fill="#089981"/>
<line x1="376.98" y1="169.3" x2="376.98" y2="190.2" stroke="#089981" stroke-opacity="0.55" stroke-width="0.9"/>
<rect x="375.88" y="169.3" width="2.2" height="20.9" fill="#089981"/>
<line x1="380.36" y1="150.8" x2="380.36" y2="174.9" stroke="#089981" stroke-opacity="0.55" stroke-width="0.9"/>
<rect x="379.26" y="158.1" width="2.2" height="9.3" fill="#089981"/>
<line x1="383.74" y1="136.8" x2="383.74" y2="157.6" stroke="#089981" stroke-opacity="0.55" stroke-width="0.9"/>
<rect x="382.64" y="136.8" width="2.2" height="20.8" fill="#089981"/>
<line x1="387.11" y1="127.2" x2="387.11" y2="144.5" stroke="#089981" stroke-opacity="0.55" stroke-width="0.9"/>
<rect x="386.01" y="134.8" width="2.2" height="4.1" fill="#089981"/>
<line x1="390.49" y1="113.3" x2="390.49" y2="147.0" stroke="#089981" stroke-opacity="0.55" stroke-width="0.9"/>
<rect x="389.39" y="118.1" width="2.2" height="16.6" fill="#089981"/>
<line x1="393.87" y1="106.9" x2="393.87" y2="123.7" stroke="#f23645" stroke-opacity="0.55" stroke-width="0.9"/>
<rect x="392.77" y="118.1" width="2.2" height="2.1" fill="#f23645"/>
<line x1="397.25" y1="114.1" x2="397.25" y2="146.3" stroke="#089981" stroke-opacity="0.55" stroke-width="0.9"/>
<rect x="396.15" y="122.1" width="2.2" height="8.8" fill="#089981"/>
<line x1="400.63" y1="115.7" x2="400.63" y2="141.3" stroke="#f23645" stroke-opacity="0.55" stroke-width="0.9"/>
<rect x="399.53" y="121.3" width="2.2" height="18.6" fill="#f23645"/>
<line x1="404.00" y1="126.1" x2="404.00" y2="148.3" stroke="#089981" stroke-opacity="0.55" stroke-width="0.9"/>
<rect x="402.90" y="126.1" width="2.2" height="12.5" fill="#089981"/>
<line x1="407.38" y1="120.8" x2="407.38" y2="143.9" stroke="#f23645" stroke-opacity="0.55" stroke-width="0.9"/>
<rect x="406.28" y="125.0" width="2.2" height="11.4" fill="#f23645"/>
<line x1="410.76" y1="106.9" x2="410.76" y2="137.7" stroke="#f23645" stroke-opacity="0.55" stroke-width="0.9"/>
<rect x="409.66" y="135.2" width="2.2" height="2.5" fill="#f23645"/>
<line x1="414.14" y1="132.5" x2="414.14" y2="154.7" stroke="#089981" stroke-opacity="0.55" stroke-width="0.9"/>
<rect x="413.04" y="135.0" width="2.2" height="4.3" fill="#089981"/>
<line x1="417.52" y1="126.9" x2="417.52" y2="145.3" stroke="#f23645" stroke-opacity="0.55" stroke-width="0.9"/>
<rect x="416.42" y="134.0" width="2.2" height="5.9" fill="#f23645"/>
<line x1="420.89" y1="137.3" x2="420.89" y2="182.2" stroke="#f23645" stroke-opacity="0.55" stroke-width="0.9"/>
<rect x="419.79" y="137.3" width="2.2" height="44.9" fill="#f23645"/>
<line x1="424.27" y1="173.7" x2="424.27" y2="196.6" stroke="#f23645" stroke-opacity="0.55" stroke-width="0.9"/>
<rect x="423.17" y="181.4" width="2.2" height="5.6" fill="#f23645"/>
<line x1="427.65" y1="134.8" x2="427.65" y2="195.5" stroke="#089981" stroke-opacity="0.55" stroke-width="0.9"/>
<rect x="426.55" y="184.3" width="2.2" height="1.1" fill="#089981"/>
<line x1="431.03" y1="181.4" x2="431.03" y2="201.6" stroke="#089981" stroke-opacity="0.55" stroke-width="0.9"/>
<rect x="429.93" y="183.7" width="2.2" height="4.4" fill="#089981"/>
<line x1="434.41" y1="165.0" x2="434.41" y2="199.0" stroke="#089981" stroke-opacity="0.55" stroke-width="0.9"/>
<rect x="433.31" y="166.0" width="2.2" height="17.7" fill="#089981"/>
<line x1="437.78" y1="162.0" x2="437.78" y2="178.1" stroke="#f23645" stroke-opacity="0.55" stroke-width="0.9"/>
<rect x="436.68" y="166.5" width="2.2" height="8.4" fill="#f23645"/>
<line x1="441.16" y1="159.6" x2="441.16" y2="183.7" stroke="#089981" stroke-opacity="0.55" stroke-width="0.9"/>
<rect x="440.06" y="160.4" width="2.2" height="14.0" fill="#089981"/>
<line x1="444.54" y1="150.9" x2="444.54" y2="164.7" stroke="#f23645" stroke-opacity="0.55" stroke-width="0.9"/>
<rect x="443.44" y="159.9" width="2.2" height="2.1" fill="#f23645"/>
<line x1="447.92" y1="158.9" x2="447.92" y2="178.6" stroke="#f23645" stroke-opacity="0.55" stroke-width="0.9"/>
<rect x="446.82" y="164.7" width="2.2" height="11.3" fill="#f23645"/>
<line x1="451.30" y1="167.3" x2="451.30" y2="198.2" stroke="#f23645" stroke-opacity="0.55" stroke-width="0.9"/>
<rect x="450.20" y="174.1" width="2.2" height="18.9" fill="#f23645"/>
<line x1="454.67" y1="190.9" x2="454.67" y2="226.6" stroke="#f23645" stroke-opacity="0.55" stroke-width="0.9"/>
<rect x="453.57" y="193.3" width="2.2" height="33.3" fill="#f23645"/>
<line x1="458.05" y1="214.3" x2="458.05" y2="234.0" stroke="#f23645" stroke-opacity="0.55" stroke-width="0.9"/>
<rect x="456.95" y="224.7" width="2.2" height="1.8" fill="#f23645"/>
<line x1="461.43" y1="218.1" x2="461.43" y2="241.4" stroke="#f23645" stroke-opacity="0.55" stroke-width="0.9"/>
<rect x="460.33" y="226.1" width="2.2" height="15.3" fill="#f23645"/>
<line x1="464.81" y1="232.1" x2="464.81" y2="240.9" stroke="#089981" stroke-opacity="0.55" stroke-width="0.9"/>
<rect x="463.71" y="232.1" width="2.2" height="6.4" fill="#089981"/>
<line x1="468.19" y1="225.7" x2="468.19" y2="245.7" stroke="#f23645" stroke-opacity="0.55" stroke-width="0.9"/>
<rect x="467.09" y="229.6" width="2.2" height="7.0" fill="#f23645"/>
<line x1="471.56" y1="224.1" x2="471.56" y2="254.9" stroke="#089981" stroke-opacity="0.55" stroke-width="0.9"/>
<rect x="470.46" y="224.1" width="2.2" height="12.5" fill="#089981"/>
<line x1="474.94" y1="216.0" x2="474.94" y2="226.5" stroke="#089981" stroke-opacity="0.55" stroke-width="0.9"/>
<rect x="473.84" y="218.9" width="2.2" height="5.1" fill="#089981"/>
<line x1="478.32" y1="213.5" x2="478.32" y2="239.8" stroke="#f23645" stroke-opacity="0.55" stroke-width="0.9"/>
<rect x="477.22" y="218.8" width="2.2" height="20.0" fill="#f23645"/>
<line x1="481.70" y1="220.8" x2="481.70" y2="242.5" stroke="#089981" stroke-opacity="0.55" stroke-width="0.9"/>
<rect x="480.60" y="224.8" width="2.2" height="15.3" fill="#089981"/>
<line x1="485.08" y1="221.7" x2="485.08" y2="243.7" stroke="#f23645" stroke-opacity="0.55" stroke-width="0.9"/>
<rect x="483.98" y="224.0" width="2.2" height="11.6" fill="#f23645"/>
<line x1="488.45" y1="229.0" x2="488.45" y2="258.1" stroke="#089981" stroke-opacity="0.55" stroke-width="0.9"/>
<rect x="487.35" y="229.0" width="2.2" height="5.5" fill="#089981"/>
<line x1="491.83" y1="215.2" x2="491.83" y2="237.2" stroke="#089981" stroke-opacity="0.55" stroke-width="0.9"/>
<rect x="490.73" y="228.9" width="2.2" height="0.9" fill="#089981"/>
<line x1="495.21" y1="219.0" x2="495.21" y2="231.8" stroke="#089981" stroke-opacity="0.55" stroke-width="0.9"/>
<rect x="494.11" y="220.0" width="2.2" height="8.8" fill="#089981"/>
<line x1="498.59" y1="211.9" x2="498.59" y2="230.7" stroke="#f23645" stroke-opacity="0.55" stroke-width="0.9"/>
<rect x="497.49" y="218.1" width="2.2" height="7.2" fill="#f23645"/>
<line x1="501.97" y1="224.1" x2="501.97" y2="244.6" stroke="#f23645" stroke-opacity="0.55" stroke-width="0.9"/>
<rect x="500.87" y="224.1" width="2.2" height="14.4" fill="#f23645"/>
<line x1="505.34" y1="235.6" x2="505.34" y2="252.2" stroke="#f23645" stroke-opacity="0.55" stroke-width="0.9"/>
<rect x="504.24" y="239.3" width="2.2" height="12.9" fill="#f23645"/>
<line x1="508.72" y1="231.8" x2="508.72" y2="261.8" stroke="#f23645" stroke-opacity="0.55" stroke-width="0.9"/>
<rect x="507.62" y="251.4" width="2.2" height="4.5" fill="#f23645"/>
<line x1="512.10" y1="240.9" x2="512.10" y2="265.5" stroke="#089981" stroke-opacity="0.55" stroke-width="0.9"/>
<rect x="511.00" y="243.7" width="2.2" height="12.8" fill="#089981"/>
<line x1="515.48" y1="229.7" x2="515.48" y2="245.3" stroke="#089981" stroke-opacity="0.55" stroke-width="0.9"/>
<rect x="514.38" y="233.4" width="2.2" height="11.9" fill="#089981"/>
<line x1="518.86" y1="209.6" x2="518.86" y2="232.4" stroke="#089981" stroke-opacity="0.55" stroke-width="0.9"/>
<rect x="517.76" y="209.6" width="2.2" height="22.8" fill="#089981"/>
<line x1="522.23" y1="204.7" x2="522.23" y2="225.9" stroke="#f23645" stroke-opacity="0.55" stroke-width="0.9"/>
<rect x="521.13" y="209.6" width="2.2" height="13.6" fill="#f23645"/>
<line x1="525.61" y1="221.9" x2="525.61" y2="229.3" stroke="#f23645" stroke-opacity="0.55" stroke-width="0.9"/>
<rect x="524.51" y="222.9" width="2.2" height="5.3" fill="#f23645"/>
<line x1="4.2" y1="33" x2="528.8" y2="223.5" stroke="#3f78e2" stroke-width="1.5" stroke-linecap="round"/>
<text x="7.1" y="28.0" font-size="7.4" fill="#2a2e39" stroke="#2a2e39" stroke-width="0.22" textLength="68.9" lengthAdjust="spacingAndGlyphs">CFDs on WTI Crude Oil, 1D, TVC</text>
<text x="79.6" y="28.0" font-size="7.4" fill="#2a2e39" stroke="#2a2e39" stroke-width="0.22" textLength="2.4" lengthAdjust="spacingAndGlyphs">O</text>
<text x="82.3" y="28.0" font-size="7.4" fill="#f23645" stroke="#f23645" stroke-width="0.22" textLength="11.8" lengthAdjust="spacingAndGlyphs">79.26</text>
<text x="97.0" y="28.0" font-size="7.4" fill="#2a2e39" stroke="#2a2e39" stroke-width="0.22" textLength="2.9" lengthAdjust="spacingAndGlyphs">H</text>
<text x="100.3" y="28.0" font-size="7.4" fill="#f23645" stroke="#f23645" stroke-width="0.22" textLength="11.7" lengthAdjust="spacingAndGlyphs">79.36</text>
<text x="115.3" y="28.0" font-size="7.4" fill="#2a2e39" stroke="#2a2e39" stroke-width="0.22" textLength="1.9" lengthAdjust="spacingAndGlyphs">L</text>
<text x="117.6" y="28.0" font-size="7.4" fill="#f23645" stroke="#f23645" stroke-width="0.22" textLength="11.7" lengthAdjust="spacingAndGlyphs">78.78</text>
<text x="132.6" y="28.0" font-size="7.4" fill="#2a2e39" stroke="#2a2e39" stroke-width="0.22" textLength="2.5" lengthAdjust="spacingAndGlyphs">C</text>
<text x="135.5" y="28.0" font-size="7.4" fill="#f23645" stroke="#f23645" stroke-width="0.22" textLength="12.0" lengthAdjust="spacingAndGlyphs">78.93</text>
<text x="150.9" y="28.0" font-size="7.4" fill="#f23645" stroke="#f23645" stroke-width="0.22" textLength="30.9" lengthAdjust="spacingAndGlyphs">−0.32 (−0.40%)</text>
</g>
<g clip-path="url(#axis)">
<text x="596.2" y="466.3" font-size="7.4" fill="#2a2e39" stroke="#2a2e39" stroke-width="0.22" textLength="12.3" lengthAdjust="spacingAndGlyphs">62.00</text>
<text x="596.2" y="438.4" font-size="7.4" fill="#2a2e39" stroke="#2a2e39" stroke-width="0.22" textLength="12.3" lengthAdjust="spacingAndGlyphs">64.00</text>
<text x="596.2" y="410.5" font-size="7.4" fill="#2a2e39" stroke="#2a2e39" stroke-width="0.22" textLength="12.3" lengthAdjust="spacingAndGlyphs">66.00</text>
<text x="596.2" y="382.6" font-size="7.4" fill="#2a2e39" stroke="#2a2e39" stroke-width="0.22" textLength="12.3" lengthAdjust="spacingAndGlyphs">68.00</text>
<text x="596.2" y="354.7" font-size="7.4" fill="#2a2e39" stroke="#2a2e39" stroke-width="0.22" textLength="12.3" lengthAdjust="spacingAndGlyphs">70.00</text>
<text x="596.2" y="326.8" font-size="7.4" fill="#2a2e39" stroke="#2a2e39" stroke-width="0.22" textLength="12.3" lengthAdjust="spacingAndGlyphs">72.00</text>
<text x="596.2" y="298.9" font-size="7.4" fill="#2a2e39" stroke="#2a2e39" stroke-width="0.22" textLength="12.3" lengthAdjust="spacingAndGlyphs">74.00</text>
<text x="596.2" y="271.1" font-size="7.4" fill="#2a2e39" stroke="#2a2e39" stroke-width="0.22" textLength="12.3" lengthAdjust="spacingAndGlyphs">76.00</text>
<text x="596.2" y="243.2" font-size="7.4" fill="#2a2e39" stroke="#2a2e39" stroke-width="0.22" textLength="12.3" lengthAdjust="spacingAndGlyphs">78.00</text>
<text x="596.2" y="215.3" font-size="7.4" fill="#2a2e39" stroke="#2a2e39" stroke-width="0.22" textLength="12.3" lengthAdjust="spacingAndGlyphs">80.00</text>
<text x="596.2" y="187.4" font-size="7.4" fill="#2a2e39" stroke="#2a2e39" stroke-width="0.22" textLength="12.3" lengthAdjust="spacingAndGlyphs">82.00</text>
<text x="596.2" y="159.5" font-size="7.4" fill="#2a2e39" stroke="#2a2e39" stroke-width="0.22" textLength="12.3" lengthAdjust="spacingAndGlyphs">84.00</text>
<text x="596.2" y="131.6" font-size="7.4" fill="#2a2e39" stroke="#2a2e39" stroke-width="0.22" textLength="12.3" lengthAdjust="spacingAndGlyphs">86.00</text>
<text x="596.2" y="103.7" font-size="7.4" fill="#2a2e39" stroke="#2a2e39" stroke-width="0.22" textLength="12.3" lengthAdjust="spacingAndGlyphs">88.00</text>
<text x="596.2" y="75.8" font-size="7.4" fill="#2a2e39" stroke="#2a2e39" stroke-width="0.22" textLength="12.3" lengthAdjust="spacingAndGlyphs">90.00</text>
<text x="596.2" y="47.9" font-size="7.4" fill="#2a2e39" stroke="#2a2e39" stroke-width="0.22" textLength="12.3" lengthAdjust="spacingAndGlyphs">92.00</text>
<text x="596.2" y="20.0" font-size="7.4" fill="#2a2e39" stroke="#2a2e39" stroke-width="0.22" textLength="12.3" lengthAdjust="spacingAndGlyphs">94.00</text>
</g>
<rect x="593.1" y="222.9" width="24.1" height="18.7" fill="#f23645"/>
<text x="596.4" y="230.7" font-size="7.4" fill="#fff" stroke="#fff" stroke-width="0.22" textLength="12.1" lengthAdjust="spacingAndGlyphs" font-weight="bold">78.93</text>
<text x="596.4" y="239.3" font-size="7.4" fill="#fde6e8" stroke="#fde6e8" stroke-width="0.22" textLength="18.7" lengthAdjust="spacingAndGlyphs">11:31:44</text>
<rect x="4.2" y="16.0" width="614.3" height="474.4" fill="none" stroke="#ebecef" stroke-width="1"/>
<line x1="4.2" y1="472.6" x2="618.5" y2="472.6" stroke="#f2f3f5" stroke-width="1"/>
<text x="21.8" y="484.4" font-size="7.4" fill="#2a2e39" stroke="#2a2e39" stroke-width="0.22" textLength="7.7" lengthAdjust="spacingAndGlyphs">Nov</text>
<text x="57.1" y="484.4" font-size="7.4" fill="#2a2e39" stroke="#2a2e39" stroke-width="0.22" textLength="4.6" lengthAdjust="spacingAndGlyphs">15</text>
<text x="95.9" y="484.4" font-size="7.4" fill="#2a2e39" stroke="#2a2e39" stroke-width="0.22" textLength="8.2" lengthAdjust="spacingAndGlyphs">Dec</text>
<text x="131.5" y="484.4" font-size="7.4" fill="#2a2e39" stroke="#2a2e39" stroke-width="0.22" textLength="4.6" lengthAdjust="spacingAndGlyphs">15</text>
<text x="161.9" y="484.4" font-size="7.4" fill="#2a2e39" stroke="#2a2e39" stroke-width="0.22" textLength="11.3" lengthAdjust="spacingAndGlyphs" font-weight="bold">2024</text>
<text x="199.0" y="484.4" font-size="7.4" fill="#2a2e39" stroke="#2a2e39" stroke-width="0.22" textLength="4.6" lengthAdjust="spacingAndGlyphs">16</text>
<text x="237.8" y="484.4" font-size="7.4" fill="#2a2e39" stroke="#2a2e39" stroke-width="0.22" textLength="8.2" lengthAdjust="spacingAndGlyphs">Feb</text>
<text x="273.3" y="484.4" font-size="7.4" fill="#2a2e39" stroke="#2a2e39" stroke-width="0.22" textLength="4.6" lengthAdjust="spacingAndGlyphs">15</text>
<text x="308.8" y="484.4" font-size="7.4" fill="#2a2e39" stroke="#2a2e39" stroke-width="0.22" textLength="8.0" lengthAdjust="spacingAndGlyphs">Mar</text>
<text x="344.3" y="484.4" font-size="7.4" fill="#2a2e39" stroke="#2a2e39" stroke-width="0.22" textLength="4.6" lengthAdjust="spacingAndGlyphs">15</text>
<text x="376.6" y="484.4" font-size="7.4" fill="#2a2e39" stroke="#2a2e39" stroke-width="0.22" textLength="7.6" lengthAdjust="spacingAndGlyphs">Apr</text>
<text x="411.8" y="484.4" font-size="7.4" fill="#2a2e39" stroke="#2a2e39" stroke-width="0.22" textLength="4.6" lengthAdjust="spacingAndGlyphs">15</text>
<text x="450.4" y="484.4" font-size="7.4" fill="#2a2e39" stroke="#2a2e39" stroke-width="0.22" textLength="8.6" lengthAdjust="spacingAndGlyphs">May</text>
<text x="496.0" y="484.4" font-size="7.4" fill="#2a2e39" stroke="#2a2e39" stroke-width="0.22" textLength="5.2" lengthAdjust="spacingAndGlyphs">20</text>
<text x="528.7" y="484.4" font-size="7.4" fill="#2a2e39" stroke="#2a2e39" stroke-width="0.22" textLength="7.4" lengthAdjust="spacingAndGlyphs">Jun</text>
<text x="563.8" y="484.4" font-size="7.4" fill="#2a2e39" stroke="#2a2e39" stroke-width="0.22" textLength="4.6" lengthAdjust="spacingAndGlyphs">17</text>
<g transform="translate(4.05,496.7) scale(0.217,0.322)" fill="#1e222d"><path d="M14 22H7V11H0V4h14v18z"/><circle cx="20" cy="8" r="4"/><path d="M28 22h-8l7.500-18h8L28 22z"/></g>
<text x="13.5" y="503.6" font-size="7.4" fill="#2a2e39" stroke="#2a2e39" stroke-width="0.22" textLength="28.4" lengthAdjust="spacingAndGlyphs">TradingView</text>
<g transform="translate(525.8,465.5)"><ellipse cx="0" cy="0" rx="4" ry="6" fill="#fff" stroke="#bb5fe0" stroke-width="0.9"/><path d="M0.9 -3.6 L-1.7 0.5 L0 0.5 L-0.9 3.8 L1.7 -0.6 L0.1 -0.6 Z" fill="#bb5fe0"/><circle cx="2.8" cy="-4.4" r="1.2" fill="#f23645"/></g>
<g opacity="0.62"><g filter="url(#ws)"><text transform="translate(371.5,468) skewX(-15)" x="0" y="0" font-size="57" font-weight="900" fill="#fff" stroke="#fff" stroke-width="1" textLength="238" lengthAdjust="spacing" style="font-family:'Noto Sans CJK SC','WenQuanYi Zen Hei',sans-serif">海马财经</text></g></g>
<g filter="url(#bs)"><text transform="scale(1.2,1)" y="505.8" font-size="31" font-weight="bold" font-style="italic" fill="#86aae3" stroke="#86aae3" stroke-width="1.3" stroke-linejoin="round" style="font-family:'Liberation Sans',sans-serif"><tspan x="324.4 346.9 369.6 389.2 405.4 433.8">zzrt01</tspan><tspan x="452.9" font-size="52" stroke-width="0.6" dy="1">.</tspan><tspan x="471.7 493.8" dy="-1">cn</tspan></text></g>
</svg></body></html>
